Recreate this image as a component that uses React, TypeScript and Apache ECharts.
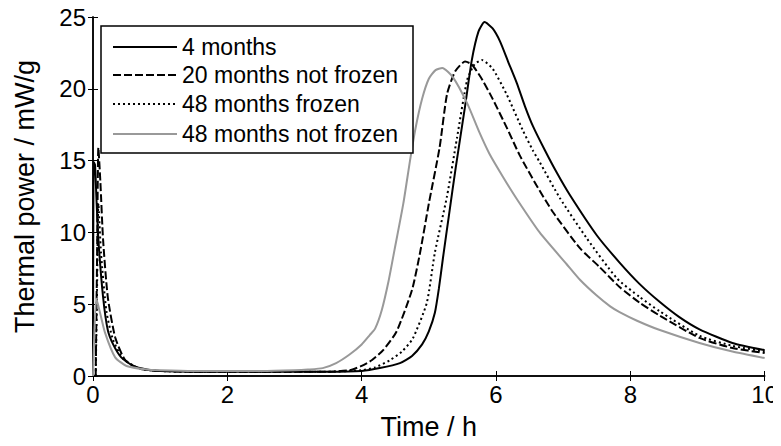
import React, { useEffect, useRef } from "react";
import * as echarts from "echarts";

const xTicks = { min: 0, max: 10, interval: 2 };
const yTicks = { min: 0, max: 25, interval: 5 };

const seriesNames = ["4 months", "20 months not frozen", "48 months frozen", "48 months not frozen"];

const time4m = [0, 0.01, 0.03, 0.05, 0.08, 0.15, 0.22, 0.3, 0.42, 0.6, 0.8, 1.0, 1.5, 2.0, 2.5, 3.0, 3.5, 4.0, 4.27, 4.57, 4.75, 4.9, 5.0, 5.09, 5.15, 5.21, 5.3, 5.4, 5.54, 5.64, 5.74, 5.83, 5.95, 6.06, 6.18, 6.31, 6.43, 6.55, 6.73, 6.9, 7.1, 7.5, 7.84, 8.14, 8.44, 8.73, 9.03, 9.52, 10];
const power4m = [0, 14.9, 14.7, 12.5, 9.5, 5.5, 3.2, 2.2, 1.3, 0.7, 0.45, 0.35, 0.3, 0.3, 0.3, 0.3, 0.3, 0.35, 0.55, 0.9, 1.4, 2.2, 3.1, 4.4, 6.1, 8.2, 11.2, 14.5, 18.8, 22.0, 24.0, 24.65, 24.2, 23.3, 21.9, 20.4, 18.8, 17.4, 15.7, 14.2, 12.6, 9.8, 7.9, 6.4, 5.15, 4.1, 3.25, 2.3, 1.8];

const time20nf = [0.04, 0.06, 0.08, 0.11, 0.15, 0.22, 0.33, 0.48, 0.7, 1.0, 1.5, 2.0, 2.5, 3.0, 3.5, 3.82, 4.0, 4.15, 4.32, 4.52, 4.75, 4.87, 5.0, 5.16, 5.27, 5.39, 5.54, 5.64, 5.8, 5.95, 6.16, 6.35, 6.6, 6.85, 7.25, 7.54, 7.84, 8.14, 8.44, 9.03, 9.52, 10];
const power20nf = [0, 8, 15.9, 13.5, 9.5, 5.5, 2.7, 1.1, 0.5, 0.35, 0.3, 0.3, 0.3, 0.3, 0.3, 0.4, 0.7, 1.1, 1.8, 3.1, 6.0, 8.6, 12.0, 15.9, 19.6, 21.2, 21.9, 21.7, 20.6, 19.3, 17.3, 15.4, 13.3, 11.4, 8.9, 7.6, 6.2, 5.1, 4.2, 2.65, 1.95, 1.6];

const time48f = [0.04, 0.06, 0.08, 0.12, 0.2, 0.3, 0.45, 0.7, 1.0, 1.5, 2.0, 2.5, 3.0, 3.5, 4.0, 4.2, 4.42, 4.6, 4.76, 4.97, 5.09, 5.27, 5.42, 5.57, 5.68, 5.79, 5.95, 6.16, 6.4, 6.55, 6.65, 6.95, 7.35, 7.8, 8.14, 8.44, 9.03, 9.52, 10];
const power48f = [0, 6, 12, 8.5, 4.5, 2.5, 1.2, 0.5, 0.35, 0.3, 0.3, 0.3, 0.3, 0.3, 0.4, 0.6, 1.1, 1.7, 2.6, 5.1, 8.6, 12.5, 16.6, 20.6, 21.7, 22.0, 21.4, 19.6, 17.1, 15.7, 14.9, 12.4, 9.6, 6.8, 5.5, 4.5, 2.8, 2.1, 1.7];

const time48nf = [0, 0.02, 0.05, 0.1, 0.18, 0.33, 0.5, 0.8, 1.0, 1.5, 2.0, 2.5, 3.0, 3.2, 3.42, 3.62, 3.82, 4.0, 4.12, 4.2, 4.3, 4.4, 4.49, 4.62, 4.72, 4.8, 4.9, 5.0, 5.1, 5.2, 5.36, 5.57, 5.75, 5.9, 6.1, 6.3, 6.65, 7.05, 7.25, 7.5, 7.7, 7.84, 8.1, 8.44, 9.03, 9.52, 10];
const power48nf = [0, 3, 5.4, 4.5, 3, 1.3, 0.7, 0.45, 0.4, 0.35, 0.35, 0.35, 0.4, 0.45, 0.55, 0.9, 1.5, 2.2, 2.85, 3.3, 4.6, 6.6, 8.8, 12.0, 15.0, 17.2, 19.3, 20.7, 21.3, 21.45, 20.8, 19.0, 17.0, 15.5, 13.9, 12.4, 10.0, 7.8, 6.7, 5.6, 4.85, 4.45, 3.85, 3.2, 2.3, 1.7, 1.25];

const lineColors = ["#000", "#000", "#000", "#999"];
const lineDashes: any[] = [null, [8, 3], [2, 3], null];

const FONT = "'Liberation Sans', Arial, Helvetica, sans-serif";

const pair = (t: number[], p: number[]) => t.map((x, i) => [x, p[i]]);

export default function App() {
  const ref = useRef<HTMLDivElement>(null);
  useEffect(() => {
    if (!ref.current) return;
    const chart = echarts.init(ref.current, undefined, { renderer: "svg" });
    const axisLine = { show: true, lineStyle: { color: "#000", width: 1.5 } };
    const tick = { show: true, inside: true, length: 5, lineStyle: { color: "#000", width: 1 } };
    const label = { color: "#000", fontSize: 24, fontFamily: FONT };
    const mk = (i: number, data: number[][]) => ({
      name: seriesNames[i],
      type: "line",
      data,
      symbol: "none",
      showSymbol: false,
      smooth: 0.2,
      lineStyle: { color: lineColors[i], width: 2, type: lineDashes[i] || "solid" },
      itemStyle: { color: lineColors[i] },
      z: 2,
    });

    // legend drawn as graphics
    const boxL = 101, boxT = 26, boxR = 413, boxB = 153;
    const rowY = [47, 75, 104, 134];
    const legendEls: any[] = [
      {
        type: "rect",
        shape: { x: boxL, y: boxT, width: boxR - boxL, height: boxB - boxT },
        style: { fill: "#fff", stroke: "#000", lineWidth: 1.5 },
        z: 100,
      },
    ];
    seriesNames.forEach((n, i) => {
      legendEls.push({
        type: "line",
        shape: { x1: 113, y1: rowY[i], x2: 177, y2: rowY[i] },
        style: { stroke: lineColors[i], lineWidth: 2, lineDash: lineDashes[i] || undefined },
        z: 101,
      });
      legendEls.push({
        type: "text",
        x: 182,
        y: rowY[i],
        style: {
          text: n,
          fill: "#000",
          fontSize: 23,
          fontFamily: FONT,
          verticalAlign: "middle",
          align: "left",
        },
        z: 101,
      });
    });

    chart.setOption({
      animation: false,
      backgroundColor: "#fff",
      grid: { left: 93, right: 16, top: 17, bottom: 70 },
      xAxis: [
        {
          type: "value",
          ...xTicks,
          position: "bottom",
          axisLine,
          axisTick: tick,
          splitLine: { show: false },
          axisLabel: { ...label, margin: 6 },
          name: "Time / h",
          nameLocation: "middle",
          nameGap: 37,
          nameTextStyle: { color: "#000", fontSize: 27, fontFamily: FONT },
        },
        {
          type: "value",
          ...xTicks,
          position: "top",
          axisLine,
          axisTick: tick,
          splitLine: { show: false },
          axisLabel: { show: false },
        },
      ],
      yAxis: [
        {
          type: "value",
          ...yTicks,
          position: "left",
          axisLine,
          axisTick: tick,
          splitLine: { show: false },
          axisLabel: { ...label, margin: 7 },
          name: "Thermal power / mW/g",
          nameLocation: "middle",
          nameGap: 55,
          nameTextStyle: { color: "#000", fontSize: 27, fontFamily: FONT },
        },
        {
          type: "value",
          ...yTicks,
          position: "right",
          axisLine,
          axisTick: tick,
          splitLine: { show: false },
          axisLabel: { show: false },
        },
      ],
      graphic: legendEls,
      series: [
        mk(0, pair(time4m, power4m)),
        mk(1, pair(time20nf, power20nf)),
        mk(2, pair(time48f, power48f)),
        mk(3, pair(time48nf, power48nf)),
      ],
    });
    return () => chart.dispose();
  }, []);
  return <div ref={ref} style={{ width: 781, height: 446, margin: -8 }} />;
}
